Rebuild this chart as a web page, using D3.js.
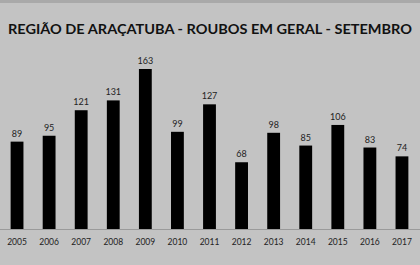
<!DOCTYPE html>
<html>
<head>
<meta charset="utf-8">
<script src="https://cdn.jsdelivr.net/npm/d3@7"></script>
<style>
  body { margin: 0; background: #c3c3c3; }
  svg { display: block; }
</style>
</head>
<body>
<svg></svg>
<script>
const width = 420;
const height = 265;

const years = ["2005", "2006", "2007", "2008", "2009", "2010", "2011", "2012", "2013", "2014", "2015", "2016", "2017"];
const roubos = [89, 95, 121, 131, 163, 99, 127, 68, 98, 85, 106, 83, 74];
const title = "REGIÃO DE ARAÇATUBA - ROUBOS EM GERAL - SETEMBRO";

let svg = d3.select("svg").attr("width", width).attr("height", height);

svg.append("rect").attr("width", width).attr("height", height).attr("fill", "#c3c3c3");
svg.append("rect").attr("width", width).attr("height", 3).attr("fill", "#a9a9a9");

svg.append("text")
    .attr("x", 8).attr("y", 34)
    .attr("textLength", 404).attr("lengthAdjust", "spacingAndGlyphs")
    .attr("font-family", "Lato, 'Open Sans', sans-serif")
    .attr("font-weight", "bold").attr("font-size", 13.5)
    .attr("fill", "#111")
    .text(title);

const x = d3.scaleBand().domain(years).range([1, 418]).paddingInner(0.6).paddingOuter(0.3);
const y = d3.scaleLinear().domain([0, 163]).range([229, 69]);

svg.append("line")
    .attr("x1", 0).attr("x2", width)
    .attr("y1", 229.5).attr("y2", 229.5)
    .attr("stroke", "#9a9a9a");

svg.selectAll(".bar").data(roubos).enter().append("rect")
    .attr("class", "bar")
    .attr("x", (d, i) => x(years[i]))
    .attr("width", x.bandwidth())
    .attr("y", d => y(d))
    .attr("height", d => y(0) - y(d))
    .attr("fill", "#000");

svg.selectAll(".val").data(roubos).enter().append("text")
    .attr("class", "val")
    .attr("x", (d, i) => x(years[i]) + x.bandwidth() / 2)
    .attr("y", d => y(d) - 5)
    .attr("text-anchor", "middle")
    .attr("font-family", "Lato, 'Open Sans', sans-serif")
    .attr("font-size", 9).attr("fill", "#222")
    .text(d => d);

svg.selectAll(".yr").data(years).enter().append("text")
    .attr("class", "yr")
    .attr("x", d => x(d) + x.bandwidth() / 2)
    .attr("y", 245)
    .attr("text-anchor", "middle")
    .attr("font-family", "Lato, 'Open Sans', sans-serif")
    .attr("font-size", 8.5).attr("fill", "#222")
    .text(d => d);
</script>
</body>
</html>
